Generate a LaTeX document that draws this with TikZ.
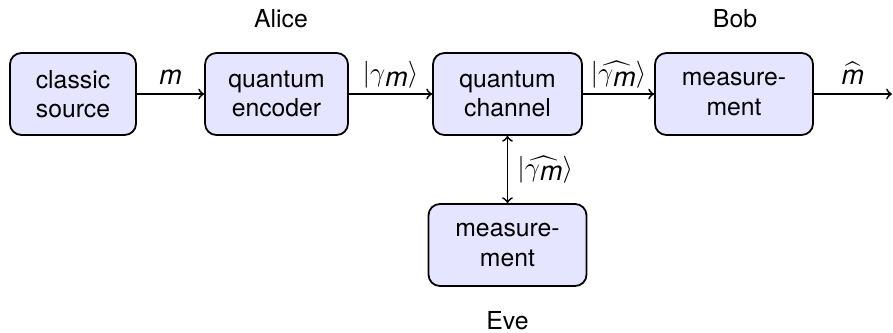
\documentclass[tikz,border=0pt]{standalone}
\usepackage{amsmath}
\usepackage{fontspec}
\setmainfont{TeX Gyre Heros}
\newcommand{\gamm}{\gamma\raisebox{-2pt}{\itshape m}}
\begin{document}
\begin{tikzpicture}[x=0.4444pt,y=-0.4444pt,
  font=\fontsize{11}{13}\selectfont,
  blockbox/.style={draw=black, thick, fill=blue!10, rounded corners=5pt,
    align=center, minimum height=36.4pt, inner sep=2pt},
  link/.style={->, thick},
  lbl/.style={inner sep=2pt, font=\fontsize{12}{14}\selectfont}]
\useasboundingbox (0,0) rectangle (893,332);
\node[blockbox, minimum width=56pt] (src) at (73,94) {classic\\source};
\node[blockbox, minimum width=63.5pt] (enc) at (276.5,94) {quantum\\encoder};
\node[blockbox, minimum width=66.2pt] (chan) at (507.5,94) {quantum\\channel};
\node[blockbox, minimum width=70.2pt] (bob) at (734,94) {measure-\\ment};
\node[blockbox, minimum width=70.2pt] (eve) at (507.5,245) {measure-\\ment};
\coordinate (out) at (892,94);
\node[inner sep=2pt] (alice) at (281,19) {Alice};
\node[inner sep=2pt] (bobl) at (735,19) {Bob};
\node[inner sep=2pt] (evel) at (507.5,321) {Eve};
\draw[link] (src) -- node[above, lbl, yshift=2pt] (l1) {\textit{m}} (enc);
\draw[link] (enc) -- node[above, lbl] (l2) {$|\gamm\rangle$} (chan);
\draw[link] (chan) -- node[above, lbl] (l3) {$|\widehat{\gamm}\rangle$} (bob);
\draw[link] (bob) -- node[above, lbl, yshift=2pt] (l4) {$\widehat{\mbox{\itshape m}}$} (out);
\draw[thick, <->] (chan) -- node[right, lbl, xshift=2pt] (l5) {$|\widehat{\gamm}\rangle$} (eve);
\end{tikzpicture}
\end{document}
